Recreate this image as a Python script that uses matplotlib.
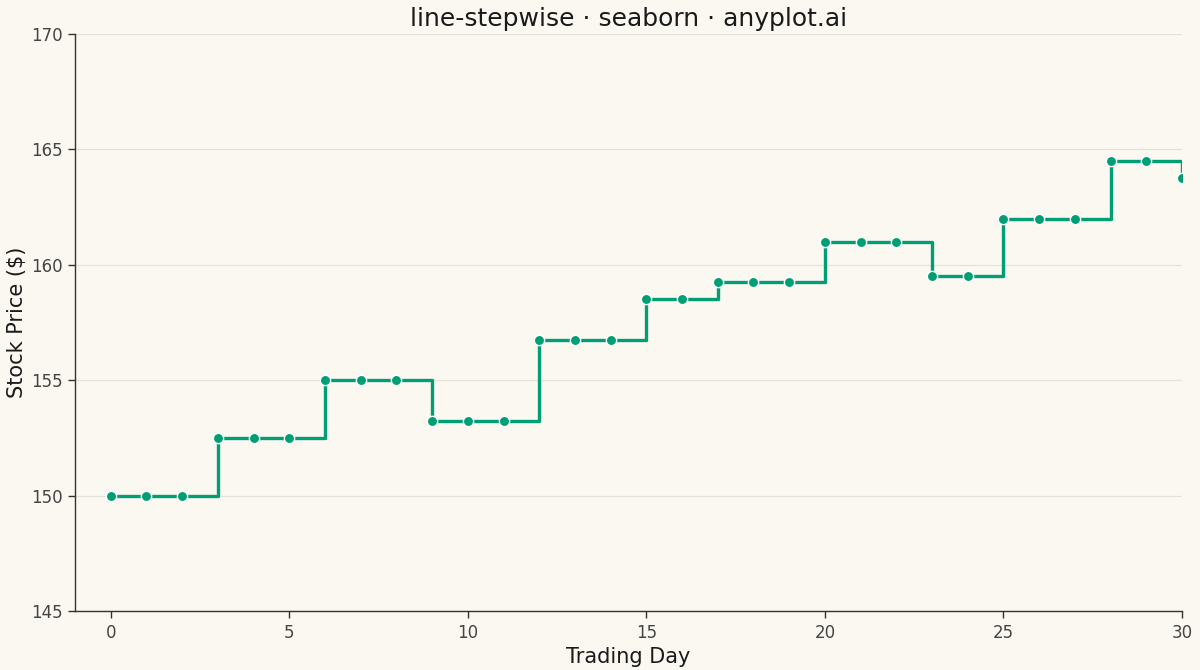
import matplotlib
matplotlib.use("Agg")
import matplotlib.pyplot as plt
import seaborn as sns
import pandas as pd

days = list(range(31))
prices = [150, 150, 150, 152.5, 152.5, 152.5, 155, 155, 155,
          153.25, 153.25, 153.25, 156.75, 156.75, 156.75,
          158.5, 158.5, 159.25, 159.25, 159.25, 161, 161, 161,
          159.5, 159.5, 162, 162, 162, 164.5, 164.5, 163.75]
x_ticks = [0, 5, 10, 15, 20, 25, 30]
y_ticks = [145, 150, 155, 160, 165, 170]

BG = "#FAF8F1"
GREEN = "#009E73"

sns.set_theme(style="white")
plt.rcParams['font.family'] = ['DejaVu Sans']

df = pd.DataFrame({"day": days, "price": prices})

fig = plt.figure(figsize=(12, 6.7), dpi=100, facecolor=BG)
ax = fig.add_axes([75/1200, 1 - 611/670, (1182-75)/1200, (611-34)/670])
ax.set_facecolor(BG)

ax.step(df["day"], df["price"], where="post", color=GREEN, linewidth=2.4, zorder=3)
sns.scatterplot(data=df, x="day", y="price", ax=ax, color=GREEN, s=55,
                edgecolor="white", linewidth=1.0, zorder=4, clip_on=True)

ax.set_xlim(-1, 30)
ax.set_ylim(145, 170)
ax.set_xticks(x_ticks)
ax.set_yticks(y_ticks)
ax.grid(axis="y", color="#E6E2DA", linewidth=0.9)
ax.grid(axis="x", visible=False)
for s in ["top", "right"]:
    ax.spines[s].set_visible(False)
for s in ["left", "bottom"]:
    ax.spines[s].set_color("#333333")
    ax.spines[s].set_linewidth(1.0)
ax.tick_params(axis="both", which="both", length=5, width=1, color="#333333",
               labelsize=12, labelcolor="#444444", bottom=True, left=True, pad=4)

ax.set_xlabel("Trading Day", fontsize=15, color="#1A1A1A", labelpad=4)
ax.set_ylabel("Stock Price ($)", fontsize=15, color="#1A1A1A", labelpad=3)
ax.set_title("line-stepwise · seaborn · anyplot.ai", fontsize=18, color="#1A1A1A", pad=6)

fig.savefig("out.png", dpi=100, facecolor=BG)
